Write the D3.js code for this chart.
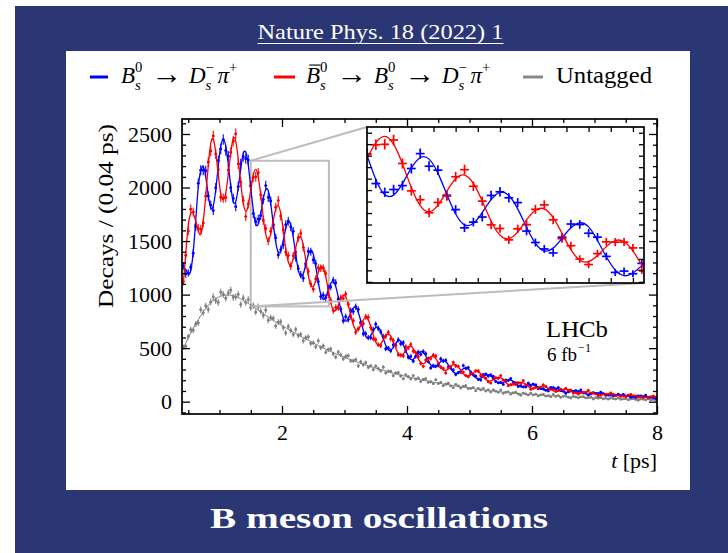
<!DOCTYPE html>
<html><head><meta charset="utf-8">
<script src="https://cdn.jsdelivr.net/npm/d3@7"></script>
<style>
body{margin:0;background:#fff}
svg{display:block}
text{font-family:"Liberation Serif","DejaVu Serif",serif}
</style>
</head><body>
<svg id="c" width="728" height="553"></svg>
<script>
// ---------------- DATA ----------------
const titleTop = "Nature Phys. 18 (2022) 1";
const titleBottom = "B meson oscillations";
const binStart = 0.4, binWidth = 0.04;           // histogram bins from 0.4 to 8 ps
const xMajorTicks = [2, 4, 6, 8];
const yMajorTicks = [0, 500, 1000, 1500, 2000, 2500];

const blueData = [1268,1193,1203,1256,1387,1634,2039,2162,2162,2157,
1920,1836,1785,1997,2252,2360,2448,2345,2293,1999,
1898,1821,2009,2221,2289,2269,2258,2017,1757,1681,
1705,1739,1888,2018,1908,1874,1655,1530,1371,1421,
1465,1653,1685,1633,1591,1343,1243,1187,1152,1290,
1404,1400,1324,1290,1122,982,994,971,1061,1071,
1134,1110,957,864,756,794,767,850,842,887,
862,741,635,634,599,598,673,723,683,653,
610,494,499,476,530,528,577,541,551,477,
415,422,378,424,463,442,467,447,375,315,
337,330,337,399,381,386,326,315,296,254,
271,275,337,311,317,260,250,238,208,202,
252,256,240,249,237,188,176,181,161,200,
199,216,180,176,141,150,138,138,172,150,
163,156,120,122,121,106,100,133,130,118,
132,103,100,79,93,106,95,103,92,109,
80,80,61,73,84,77,71,89,76,59,
62,64,54,60,71,55,69,55,58,41,
46,39,55,53,48,60,39,41,39,29];

const redData = [1120,1367,1594,1798,1771,1651,1617,1611,1669,1919,
2239,2341,2482,2315,2166,1910,1901,1907,2163,2328,
2433,2501,2221,2050,1879,1729,1846,2013,2095,2099,
2137,1932,1693,1616,1502,1592,1648,1816,1878,1733,
1604,1397,1365,1266,1362,1398,1532,1571,1441,1276,
1215,1099,1051,1146,1249,1246,1247,1196,1001,946,
851,881,877,969,963,1005,910,794,757,648,
679,728,729,793,789,692,587,577,531,524,
608,611,647,587,571,524,439,433,427,514,
502,534,472,456,420,356,330,389,403,403,
434,426,356,322,311,269,318,326,366,333,
330,277,276,244,233,277,258,287,287,242,
238,220,187,174,216,222,217,243,202,190,
149,159,169,158,177,169,196,156,151,116,
124,136,128,127,157,142,117,118,113,94,
101,117,99,123,107,109,81,84,70,89,
88,87,106,79,80,73,53,64,74,68,
61,81,70,55,64,49,54,46,60,67,
53,54,41,52,38,44,35,47,54,43];

const grayData = [511,517,607,673,666,725,735,859,830,895,
860,932,978,944,927,1023,1003,966,1016,1041,
975,978,1002,908,969,926,954,878,898,836,
887,843,806,855,760,783,778,706,742,747,
691,642,701,665,627,675,617,628,568,597,
605,544,549,512,568,505,521,461,485,492,
446,416,463,437,399,422,430,382,381,393,
334,372,346,365,320,335,299,332,308,289,
322,268,284,283,243,267,271,240,214,251,
233,213,243,211,220,188,207,215,181,186,
168,204,169,180,149,164,172,147,131,161,
147,128,143,149,123,124,132,101,124,110,
123,99,109,90,110,98,88,109,79,89,
91,70,83,88,72,59,80,72,62,80,
63,70,53,64,69,52,56,46,67,49,
56,40,50,53,41,34,51,44,35,44,
47,35,36,42,25,38,32,39,26,32,
23,34,29,24,35,21,26,28,17,25,
28,20,13,25,22,16,27,18,22,13];

const blueFit = [1250,1235,1193,1224,1402,1696,2003,2157,2195,2097,
1929,1810,1828,1979,2200,2389,2448,2389,2218,2013,
1868,1868,2000,2179,2313,2331,2211,2003,1791,1661,
1656,1756,1892,1982,1970,1848,1663,1491,1397,1410,
1504,1617,1681,1653,1536,1376,1236,1170,1194,1279,
1371,1415,1379,1261,1119,1004,954,977,1042,1104,
1121,1074,976,864,781,751,775,830,875,881,
836,755,669,609,592,618,660,692,693,656,
591,526,486,480,507,544,570,565,530,475,
425,394,396,420,452,468,461,428,383,343,
323,328,350,374,385,375,345,308,277,264,
271,290,308,316,305,279,247,224,215,221,
237,251,253,241,219,194,177,171,179,192,
202,202,190,172,153,139,137,144,155,162,
160,150,134,119,111,110,116,124,129,126,
118,105,94,88,89,95,101,103,101,93,
83,74,70,71,76,81,83,80,73,65,
58,56,57,61,65,66,64,57,51,46,
44,46,49,52,52,50,45,40,36,36];

const redFit = [1090,1385,1647,1756,1758,1684,1597,1563,1685,1923,
2201,2410,2452,2325,2120,1941,1888,1951,2122,2323,
2458,2432,2264,2041,1857,1779,1833,1973,2113,2169,
2100,1928,1722,1564,1510,1568,1689,1799,1831,1758,
1604,1431,1307,1277,1336,1440,1524,1536,1460,1323,
1181,1089,1077,1129,1207,1260,1250,1169,1046,928,
857,852,898,960,995,977,907,808,719,671,
674,715,763,785,764,702,624,558,529,540,
577,616,632,612,561,500,452,433,446,479,
509,518,496,452,402,366,355,370,397,419,
423,402,364,324,297,293,307,330,347,346,
325,294,262,242,241,255,273,284,279,261,
233,207,193,195,205,220,227,223,205,182,
162,154,156,166,177,181,175,160,143,128,
122,126,134,143,145,138,126,112,101,98,
102,109,114,116,109,99,87,81,79,81,
87,92,92,87,78,69,63,62,67,71,
74,74,69,61,55,50,50,53,57,58,
58,54,47,42,40,40,43,46,48,46];

const grayFit = [495,545,595,640,685,725,765,805,840,870,
900,925,945,962,975,985,992,996,997,995,
990,982,972,960,947,933,918,903,887,871,
855,839,823,807,791,776,761,746,732,718,
704,690,676,662,649,636,623,610,597,585,
573,561,549,537,525,513,502,491,480,469,
459,448,438,429,419,410,401,392,383,375,
366,358,350,343,335,328,320,313,306,299,
293,286,280,273,267,261,254,248,242,237,
231,226,220,215,210,205,200,196,191,186,
182,178,174,169,165,161,158,154,150,146,
143,139,136,132,129,125,122,119,116,113,
110,107,105,102,99,97,94,92,89,87,
85,83,80,78,76,74,72,71,69,67,
65,64,62,60,59,57,56,54,53,52,
50,49,48,46,45,44,43,42,41,40,
39,38,37,36,35,34,33,32,31,30,
30,29,28,27,27,26,25,25,24,23,
23,22,22,21,21,20,20,19,19,18];

// ---------------- STYLE ----------------
const NAVY = "#2b3675", BLUE = "#0000ff", RED = "#ff0000", GRAY = "#808080", BOXGRAY = "#bcbcbc";

const svg = d3.select("#c");
svg.append("rect").attr("width",728).attr("height",553).attr("fill","#fff");
svg.append("rect").attr("x",15).attr("y",6).attr("width",713).attr("height",547).attr("fill",NAVY);
svg.append("rect").attr("x",66).attr("y",51).attr("width",624).attr("height",439).attr("fill","#fff");

// titles
const tt = svg.append("text").attr("x",380.5).attr("y",39).attr("text-anchor","middle")
  .attr("fill","#fff").attr("font-size",22).attr("textLength",246).attr("lengthAdjust","spacingAndGlyphs").text(titleTop);
{
  const b = tt.node().getBBox();
  svg.append("line").attr("x1",b.x).attr("x2",b.x+b.width).attr("y1",43.5).attr("y2",43.5)
    .attr("stroke","#fff").attr("stroke-width",1.2);
}
svg.append("text").attr("x",379).attr("y",528).attr("text-anchor","middle")
  .attr("fill","#fff").attr("font-weight","bold").attr("font-size",30)
  .attr("textLength",338).attr("lengthAdjust","spacingAndGlyphs").text(titleBottom);

// ---------------- helpers ----------------
const pts = arr => arr.map((v,i)=>({t: binStart + binWidth*(i+0.5), v}));

// one <text> per formula, pieces as positioned tspans
function mathText(g, x, y, parts, size){
  const txt = g.append("text").attr("x",x).attr("y",y).attr("font-size",size);
  let cx = x;
  const overlines = [];
  parts.forEach(p=>{
    if (p.t !== undefined){
      cx += (p.pl||0);
      const fs = size*(p.scale||1);
      const e = txt.append("tspan").attr("x",cx).attr("y",y+(p.dy||0)).attr("font-size",fs)
        .attr("font-style", p.i ? "italic":"normal").text(p.t);
      const w = e.node().getComputedTextLength();
      if (p.bar) overlines.push([cx+size*0.14, cx+w+size*0.02]);
      cx += w + (p.pr||0);
    } else {
      let w = 0;
      const ss = size*0.64;
      if (p.sup!==undefined){
        const e = txt.append("tspan").attr("x",cx+(p.supdx||0)).attr("y",y-size*0.47).attr("font-size",ss)
          .attr("font-style","normal").text(p.sup);
        w = Math.max(w, e.node().getComputedTextLength()+(p.supdx||0));
      }
      if (p.sub!==undefined){
        const e = txt.append("tspan").attr("x",cx).attr("y",y+size*0.3).attr("font-size",ss)
          .attr("font-style","italic").text(p.sub);
        w = Math.max(w, e.node().getComputedTextLength());
      }
      cx += w + 2.5;
    }
  });
  overlines.forEach(([a,b])=>g.append("line").attr("x1",a).attr("x2",b)
    .attr("y1",y-size*0.78).attr("y2",y-size*0.78).attr("stroke","#000").attr("stroke-width",1.1));
  return cx;
}

// ---------------- legend ----------------
const LG = svg.append("g");
const LS = 23, LY = 83, LDY = 77;
const arrow = {t:"→", pl:6, pr:7, scale:1.35, dy:1};
LG.append("line").attr("x1",90).attr("x2",108).attr("y1",LDY).attr("y2",LDY).attr("stroke",BLUE).attr("stroke-width",3);
mathText(LG, 121, LY, [
  {t:"B", i:true}, {sub:"s", sup:"0"},
  arrow,
  {t:"D", i:true}, {sub:"s", sup:"−"},
  {t:"π", i:true, pl:1}, {sup:"+"}
], LS);
LG.append("line").attr("x1",274).attr("x2",295).attr("y1",LDY).attr("y2",LDY).attr("stroke",RED).attr("stroke-width",3);
mathText(LG, 306, LY, [
  {t:"B", i:true, bar:true}, {sub:"s", sup:"0"},
  arrow,
  {t:"B", i:true}, {sub:"s", sup:"0"},
  arrow,
  {t:"D", i:true}, {sub:"s", sup:"−"},
  {t:"π", i:true, pl:1}, {sup:"+"}
], LS);
LG.append("line").attr("x1",523).attr("x2",543).attr("y1",LDY).attr("y2",LDY).attr("stroke","#888").attr("stroke-width",3);
LG.append("text").attr("x",556).attr("y",LY).attr("font-size",LS).attr("textLength",96).attr("lengthAdjust","spacingAndGlyphs").text("Untagged");

// ---------------- main plot ----------------
const x = d3.scaleLinear().domain([0.4, 8]).range([182, 657]);
const y = d3.scaleLinear().domain([-115, 2640]).range([414, 119]);

const defs = svg.append("defs");
defs.append("clipPath").attr("id","mclip").append("rect")
  .attr("x",182).attr("y",119).attr("width",475).attr("height",295);

const xi = d3.scaleLinear().domain([1.5, 2.75]).range([367, 644]);
const yi = d3.scaleLinear().domain([890, 2250]).range([283, 127]);
defs.append("clipPath").attr("id","iclip").append("rect")
  .attr("x",367).attr("y",127).attr("width",277).attr("height",156);

const M = svg.append("g").attr("clip-path","url(#mclip)");

// zoom box + connectors
M.append("rect").attr("x",x(1.5)).attr("y",y(2250)).attr("width",x(2.75)-x(1.5)).attr("height",y(890)-y(2250))
  .attr("fill","none").attr("stroke",BOXGRAY).attr("stroke-width",2);
svg.append("line").attr("x1",x(1.5)).attr("y1",y(2250)).attr("x2",367).attr("y2",127).attr("stroke",BOXGRAY).attr("stroke-width",2);
svg.append("line").attr("x1",x(1.5)).attr("y1",y(890)).attr("x2",644).attr("y2",283).attr("stroke",BOXGRAY).attr("stroke-width",2);

function drawPoints(g, arr, color, xs, ys, sw, r){
  const d = pts(arr);
  const gg = g.append("g").attr("stroke",color).attr("fill",color).attr("stroke-width",sw);
  gg.selectAll("line.v").data(d).join("line").attr("class","v")
    .attr("x1",p=>xs(p.t)).attr("x2",p=>xs(p.t))
    .attr("y1",p=>ys(p.v-Math.sqrt(p.v))).attr("y2",p=>ys(p.v+Math.sqrt(p.v)));
  gg.selectAll("line.h").data(d).join("line").attr("class","h")
    .attr("x1",p=>xs(p.t-binWidth/2)).attr("x2",p=>xs(p.t+binWidth/2))
    .attr("y1",p=>ys(p.v)).attr("y2",p=>ys(p.v));
  if (r>0) gg.selectAll("circle").data(d).join("circle").attr("stroke","none")
    .attr("cx",p=>xs(p.t)).attr("cy",p=>ys(p.v)).attr("r",r);
}
function drawFit(g, arr, color, xs, ys, sw){
  const line = d3.line().x(p=>xs(p.t)).y(p=>ys(p.v)).curve(d3.curveNatural);
  g.append("path").attr("d", line(pts(arr))).attr("fill","none").attr("stroke",color).attr("stroke-width",sw);
}

drawPoints(M, grayData, GRAY, x, y, 1.1, 1.4);
drawFit(M, grayFit, GRAY, x, y, 1);
drawPoints(M, blueData, BLUE, x, y, 1.1, 1.4);
drawPoints(M, redData, RED, x, y, 1.1, 1.4);
drawFit(M, blueFit, BLUE, x, y, 1.3);
drawFit(M, redFit, RED, x, y, 1.3);

// axes main
function styleAxis(g){ g.select(".domain").remove(); g.selectAll("line").attr("stroke","#000").attr("stroke-width",1.3); }
const minorX = d3.range(0.5, 8.001, 0.5).filter(v=>v%2!==0);
const minorY = d3.range(-100, 2601, 100).filter(v=>v%500!==0);

const ab = svg.append("g").attr("transform","translate(0,414)").call(d3.axisBottom(x).tickValues(xMajorTicks).tickSize(-8).tickPadding(10).tickFormat(d3.format("d")));
styleAxis(ab);
ab.selectAll("text").attr("font-size",22).attr("font-family","Liberation Serif, serif").attr("fill","#000");
styleAxis(svg.append("g").attr("transform","translate(0,414)").call(d3.axisBottom(x).tickValues(minorX).tickSize(-4).tickFormat("")));
styleAxis(svg.append("g").attr("transform","translate(0,119)").call(d3.axisTop(x).tickValues(xMajorTicks).tickSize(-8).tickFormat("")));
styleAxis(svg.append("g").attr("transform","translate(0,119)").call(d3.axisTop(x).tickValues(minorX).tickSize(-4).tickFormat("")));

const al = svg.append("g").attr("transform","translate(182,0)").call(d3.axisLeft(y).tickValues(yMajorTicks).tickSize(-8).tickPadding(10).tickFormat(d3.format("d")));
styleAxis(al);
al.selectAll("text").attr("font-size",22).attr("font-family","Liberation Serif, serif").attr("fill","#000");
styleAxis(svg.append("g").attr("transform","translate(182,0)").call(d3.axisLeft(y).tickValues(minorY).tickSize(-4).tickFormat("")));
styleAxis(svg.append("g").attr("transform","translate(657,0)").call(d3.axisRight(y).tickValues(yMajorTicks).tickSize(-8).tickFormat("")));
styleAxis(svg.append("g").attr("transform","translate(657,0)").call(d3.axisRight(y).tickValues(minorY).tickSize(-4).tickFormat("")));

svg.append("rect").attr("x",182).attr("y",119).attr("width",475).attr("height",295)
  .attr("fill","none").attr("stroke","#000").attr("stroke-width",1.7);

// axis titles
svg.append("text").attr("transform","translate(113,216) rotate(-90)").attr("text-anchor","middle")
  .attr("font-size",22).attr("textLength",184).attr("lengthAdjust","spacingAndGlyphs").text("Decays / (0.04 ps)");
{
  const t = svg.append("text").attr("x",657).attr("y",468).attr("text-anchor","end").attr("font-size",22);
  t.append("tspan").attr("font-style","italic").text("t");
  t.append("tspan").text(" [ps]");
}
svg.append("text").attr("x",546).attr("y",337).attr("font-size",23).attr("textLength",62).attr("lengthAdjust","spacingAndGlyphs").text("LHCb");
mathText(svg.append("g"), 547, 361, [{t:"6 fb"}, {sup:"−1", supdx:1}], 19);

// ---------------- inset ----------------
svg.append("rect").attr("x",367).attr("y",127).attr("width",277).attr("height",156).attr("fill","#fff");
const I = svg.append("g").attr("clip-path","url(#iclip)");
drawPoints(I, blueData, BLUE, xi, yi, 1.7, 0);
drawPoints(I, redData, RED, xi, yi, 1.7, 0);
drawFit(I, blueFit, BLUE, xi, yi, 1.3);
drawFit(I, redFit, RED, xi, yi, 1.3);

const ixT = d3.range(1.6, 2.71, 0.1);
const iyT = d3.range(900, 2201, 100);
styleAxis(svg.append("g").attr("transform","translate(0,283)").call(d3.axisBottom(xi).tickValues(ixT).tickSize(-5).tickFormat("")));
styleAxis(svg.append("g").attr("transform","translate(0,127)").call(d3.axisTop(xi).tickValues(ixT).tickSize(-5).tickFormat("")));
styleAxis(svg.append("g").attr("transform","translate(367,0)").call(d3.axisLeft(yi).tickValues(iyT).tickSize(-5).tickFormat("")));
styleAxis(svg.append("g").attr("transform","translate(644,0)").call(d3.axisRight(yi).tickValues(iyT).tickSize(-5).tickFormat("")));
svg.append("rect").attr("x",367).attr("y",127).attr("width",277).attr("height",156)
  .attr("fill","none").attr("stroke","#000").attr("stroke-width",1.7);
</script>
</body></html>
